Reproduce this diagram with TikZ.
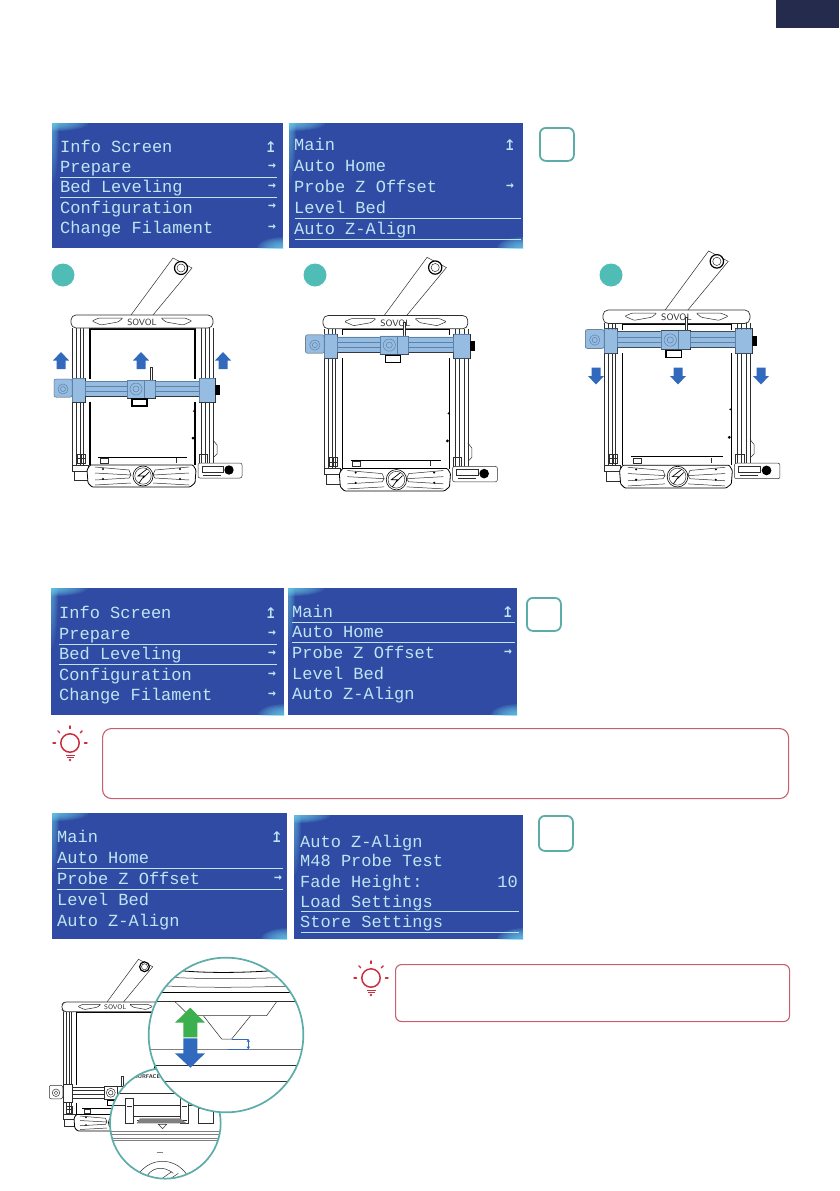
\documentclass[tikz,border=0pt]{standalone}
\usepackage{fontspec}
\usetikzlibrary{arrows.meta,calc}
\newfontfamily\lcdfont{Liberation Mono}
\newfontfamily\lcdsym{DejaVu Sans Mono}
\definecolor{lcdblue}{HTML}{2F4BA3}
\definecolor{lcdglow}{HTML}{6FD3EE}
\definecolor{lcdtext}{HTML}{BDE6F3}
\definecolor{tabnavy}{HTML}{252B4D}
\definecolor{stepteal}{HTML}{4FBDB6}
\definecolor{boxteal}{HTML}{5CADA9}
\definecolor{tipred}{HTML}{C9303F}
\definecolor{tipframe}{HTML}{C75F6C}
\definecolor{arrowblue}{HTML}{3169BD}
\definecolor{arrowgreen}{HTML}{3CB04F}
\definecolor{gantryblue}{HTML}{6FA3D8}
\definecolor{wire}{HTML}{2E2E2E}
\tikzset{
  screen/.style={anchor=north west,inner sep=0pt,fill=lcdblue,path picture={
    \foreach \s in {.2,.3,...,1.05}{
      \fill[lcdglow,fill opacity=.13] (path picture bounding box.north west) ellipse [x radius=36pt*\s,y radius=8pt*\s];
      \fill[lcdglow,fill opacity=.08] (path picture bounding box.north west) ellipse [x radius=7pt*\s,y radius=60pt*\s];
      \fill[lcdglow,fill opacity=.14] (path picture bounding box.south east) ellipse [x radius=26pt*\s,y radius=11pt*\s];}}},
  lcd/.style={anchor=west,inner sep=0pt,text height=11pt,text depth=0pt,text=lcdtext,font=\lcdfont\fontsize{17}{17}\selectfont},
  lcdmark/.style={inner sep=0pt,text=lcdtext,font=\lcdsym\bfseries\fontsize{13}{13}\selectfont},
  lcdback/.style={inner sep=0pt,text=lcdtext,font=\lcdsym\fontsize{20}{20}\selectfont},
  lcdline/.style={draw=lcdtext,line width=.8pt},
  stepdot/.style={circle,fill=stepteal,inner sep=0pt,minimum size=23pt},
  stepbox/.style={anchor=north west,draw=boxteal,line width=1.8pt,rounded corners=6pt,inner sep=0pt},
  tipbox/.style={anchor=north west,draw=tipframe,line width=1.1pt,inner sep=0pt},
  lens/.style={draw=boxteal,line width=1.7pt},
  thinline/.style={draw=wire,line width=.5pt},
  gantrytint/.style={fill=gantryblue,fill opacity=.72},
  pics/blockarrow/.style={code={
    \fill (-4.5,8.5) -- (-4.5,0) -- (-8,0) -- (0,-8.5) -- (8,0) -- (4.5,0) -- (4.5,8.5) -- cycle;}},
  pics/bulb/.style={code={
    \draw[tipred,line width=1.5pt] (0,0) circle (9.2);
    \draw[tipred,line width=1.3pt] (-4.5,12.5) -- (4.5,12.5) (-3.5,14.5) -- (3.5,14.5);
    \fill[tipred] (0,17) circle (1.3);
    \foreach \a in {0,-45,-90,-135,180}
      \draw[tipred,line width=1.4pt,line cap=round] (\a:14.5) -- (\a:17);}},
  pics/printer/.style={code={
    % spool arm
    \draw[thinline] (60,0) -- (102,-57) -- (121,-47) -- (82,0);
    \draw[draw=black,line width=1.2pt,fill=white] (110,-47) circle (6.5);
    \draw[thinline] (110,-47) circle (4);
    % uprights and inner frame
    \foreach \u in {1.5,5,9,12,130,134,138,142}
      \draw[thinline] (\u,13) -- (\u,150);
    \draw[draw=black,line width=1.2pt] (19,13) -- (19,150) (124,13) -- (124,150) (19,14) -- (124,14);
    \draw[draw=wire,line width=.7pt,fill=white,rounded corners=2pt] (0,3) -- (3,0) -- (139,0) -- (142,3) -- (142,10) -- (139,13) -- (3,13) -- (0,10) -- cycle;
    \draw[thinline,rounded corners=1pt] (21,6) -- (28,3) -- (52,3) -- (47,7) -- (30,10) -- cycle (121,6) -- (114,3) -- (90,3) -- (95,7) -- (112,10) -- cycle;
    \node[inner sep=0pt,text=wire,transform shape,font=\sffamily\fontsize{9}{9}\selectfont] (-brand) at (71,7.5) {SOVOL};
    % bed, feet and control box
    \draw[draw=black,line width=1pt] (27,142) -- (116,142);
    \draw[thinline] (29,143) rectangle (37,148) (105,143) -- (105,148);
    \draw[thinline] (6,139) rectangle (14,148) (10,139) -- (10,148) (6,143.5) -- (14,143.5);
    \draw[thinline,fill=white] (1,150) rectangle (17,156) (3,156) rectangle (17,165);
    \draw[thinline] (128,139) rectangle (136,148);
    \draw[thinline] (142,125) -- (146,130) -- (146,139) -- (143,142);
    \fill[black] (122,123) circle (1.5) (123,96) circle (1);
    \draw[thinline,fill=white,rounded corners=2pt] (127,148) rectangle (171,163);
    \draw[thinline] (131,151) rectangle (152,157);
    \draw[draw=wire,line width=1pt] (132,160) -- (150,160);
    \fill[black] (158,155) circle (4.7);
    % base with logo
    \draw[draw=black,line width=.8pt,fill=white,rounded corners=1pt] (19,150) -- (122,150) -- (125,155) -- (124,168) -- (119,172) -- (21,172) -- (17,168) -- (16,155) -- cycle;
    \draw[thinline] (24,152) -- (58,155) -- (60,160) -- (24,158) (24,165) -- (58,163) -- (60,160) (24,170) -- (60,168) (118,152) -- (84,155) -- (82,160) -- (118,158) (118,165) -- (84,163) -- (82,160) (118,170) -- (82,168);
    \fill[black] (32,154) circle (1.1) (32,164) circle (1.1) (109,154) circle (1.1) (109,164) circle (1.1);
    \draw[draw=black,line width=.6pt,fill=white] (72,161) circle (10);
    \draw[thinline] (72,161) circle (8.2);
    \draw[draw=black,line width=.7pt] (76,154) -- (67,161) -- (73,161) -- (68,168) (78,157) -- (72,163);
    % gantry
    \begin{scope}[shift={(0,#1)}]
      \fill[white] (-17,1) rectangle (149,24);
      \draw[thinline,rounded corners=2pt] (-17,1) rectangle (1,19);
      \draw[thinline] (-8,11) circle (5) (-8,11) circle (2.5);
      \draw[thinline] (1,0) rectangle (14,24) (128,0) rectangle (144,24);
      \fill[black] (144,7) rectangle (149,17);
      \draw[thinline] (14,3) -- (128,3) (14,8) -- (128,8) (14,13) -- (128,13) (14,18) -- (128,18);
      \draw[thinline,fill=white] (79,-11) rectangle (81,2);
      \draw[thinline,fill=white] (56,2) rectangle (84,20) (73,2) -- (73,20);
      \draw[thinline] (65,11) circle (6) (65,11) circle (3);
      \draw[draw=black,line width=1.3pt,fill=white] (61,21) rectangle (76,28);
      \fill[gantrytint] (-17,1) rectangle (1,19) (1,0) rectangle (14,24) (14,3) rectangle (128,18) (128,0) rectangle (144,24) (56,2) rectangle (84,20);
    \end{scope}}}
}
\begin{document}
\begin{tikzpicture}[x=1pt,y=-1pt]
  \useasboundingbox (0,0) rectangle (839,1191);
  \fill[tabnavy] (776,0) rectangle (839,28);

  % first row of screens
  \node[screen,minimum width=231pt,minimum height=125pt] (s1) at (52,123) {};
  \node[screen,minimum width=234pt,minimum height=125pt] (s2) at (289,123) {};
  \foreach \t/\y in {Info Screen/147,Prepare/167,Bed Leveling/187,Configuration/208,Change Filament/228}
    \node[lcd] (s1-\y) at (60,\y) {\t};
  \foreach \t/\y in {Main/145,Auto Home/166,Probe Z Offset/187,Level Bed/208,Auto Z-Align/229}
    \node[lcd] (s2-\y) at (294,\y) {\t};
  \foreach \y in {167,187,207,228}
    \node[lcdmark] (s1m\y) at (272,\y) {→};
  \node[lcdback] (s1up) at (271,147) {↥};
  \node[lcdback] (s2up) at (510,145) {↥};
  \node[lcdmark] (s2m) at (510,187) {→};
  \draw[lcdline] (60,177) -- (277,177) (60,197) -- (277,197) (295,218) -- (521,218) (295,239) -- (521,239);
  \node[stepbox,minimum width=34pt,minimum height=33pt] (b1) at (539,127) {};

  % gantry moves
  \foreach \x/\k in {63/1,315/2,611/3}
    \node[stepdot] (d\k) at (\x,275) {};
  \pic (p1) at (71,315) {printer=63};
  \pic[scale=1.02] (p2) at (323,315.5) {printer=18};
  \pic[scale=1.035] (p3) at (603,310) {printer=18};
  \foreach \x in {61,141,223}
    \pic[arrowblue] at (\x,360.5) {blockarrow};
  \foreach \x in {596,678,761}
    \pic[arrowblue,yscale=-1] at (\x,376) {blockarrow};

  % second row of screens
  \node[screen,minimum width=233pt,minimum height=127pt] (s3) at (51,588) {};
  \node[screen,minimum width=229pt,minimum height=127pt] (s4) at (288,588) {};
  \foreach \t/\y in {Info Screen/613,Prepare/634,Bed Leveling/654,Configuration/675,Change Filament/695}
    \node[lcd] (s3-\y) at (59,\y) {\t};
  \foreach \t/\y in {Main/612,Auto Home/632,Probe Z Offset/653,Level Bed/674,Auto Z-Align/694}
    \node[lcd] (s4-\y) at (292,\y) {\t};
  \foreach \y in {634,654,675,695}
    \node[lcdmark] (s3m\y) at (272,\y) {→};
  \node[lcdback] (s3up) at (271,613) {↥};
  \node[lcdback] (s4up) at (508,612) {↥};
  \node[lcdmark] (s4m) at (508,653) {→};
  \draw[lcdline] (59,644) -- (277,644) (59,664) -- (277,664) (292,622) -- (515,622) (292,642) -- (515,642);
  \node[stepbox,minimum width=34pt,minimum height=33pt] (b2) at (526,597) {};

  \pic at (70,743) {bulb};
  \node[tipbox,rounded corners=9pt,minimum width=686pt,minimum height=70pt] (t1) at (102,728) {};

  % third row of screens
  \node[screen,minimum width=235pt,minimum height=126pt] (s5) at (52,813) {};
  \node[screen,minimum width=229pt,minimum height=124pt] (s6) at (294,815) {};
  \foreach \t/\y in {Main/837,Auto Home/858,Probe Z Offset/879,Level Bed/900,Auto Z-Align/921}
    \node[lcd] (s5-\y) at (57,\y) {\t};
  \foreach \t/\y in {Auto Z-Align/842,M48 Probe Test/861,Fade Height:/882,Load Settings/902,Store Settings/922}
    \node[lcd] (s6-\y) at (300,\y) {\t};
  \node[lcdback] (s5up) at (277,837) {↥};
  \node[lcdmark] (s5m) at (278,879) {→};
  \node[lcd,anchor=east] (s6v) at (518,882) {10};
  \draw[lcdline] (57,868) -- (283,868) (57,889) -- (283,889) (301,911) -- (519,911) (301,932) -- (519,932);
  \node[stepbox,minimum width=34pt,minimum height=35pt] (b3) at (538,815) {};

  % nozzle gap with magnified views
  \pic[scale=.75,gantrytint/.style={fill opacity=0}] (p4) at (62,1002) {printer=110};
  \begin{scope}[shift={(30,950)},scale=1/3]
    \fill[white] (406,520) circle (166);
    \begin{scope}
      \clip (406,520) circle (166);
      \node[inner sep=0pt,text=wire,font=\sffamily\bfseries\fontsize{5.5}{5.5}\selectfont] (surface) at (352,380) {SURFACE};
      \draw[thinline] (250,430) -- (560,430) (250,465) -- (560,465) (505,475) rectangle (550,520);
      \draw[thinline,fill=white] (285,445) rectangle (310,520) (450,445) rectangle (475,520);
      \draw[thinline] (290,470) -- (305,470) (455,470) -- (470,470);
      \draw[draw=wire,line width=.9pt] (310,500) -- (450,500) (320,512) -- (470,512);
      \fill[gray] (330,505) -- (450,505) -- (470,520) -- (320,520) -- cycle;
      \draw[thinline] (385,523) -- (410,523) -- (398,536) -- cycle;
      \draw[draw=gray,line width=.4pt] (240,545) -- (570,545) (240,552) -- (570,552) (240,565) -- (570,565) (240,570) -- (570,570);
      \draw[draw=gray,line width=.4pt] (380,606) -- (398,606);
      \draw[thinline] (315,690) .. controls (350,615) and (445,615) .. (480,690);
      \draw[thinline] (345,690) .. controls (360,650) and (400,645) .. (430,670) (390,690) -- (425,665) (415,690) -- (445,670);
    \end{scope}
    \draw[lens] (406,520) circle (166);
  \end{scope}
  \begin{scope}[shift={(30,950)},scale=1/3]
    \fill[white] (588,255) circle (232);
    \begin{scope}
      \clip (588,255) circle (232);
      \draw[draw=black,line width=.8pt] (450,62) .. controls (540,70) and (640,68) .. (730,62);
      \draw[thinline] (420,82) .. controls (540,88) and (650,86) .. (780,82) (410,108) .. controls (540,114) and (650,112) .. (790,108);
      \draw[draw=black,line width=.9pt] (380,128) -- (800,128);
      \draw[draw=wire,line width=.6pt] (350,155) -- (830,155);
      \draw[thinline] (435,155) -- (478,197) -- (710,197) -- (740,155) (520,197) -- (575,267) -- (605,267) -- (662,197);
      \draw[draw=gray,line width=.5pt] (350,298) -- (830,298);
      \draw[draw=wire,line width=.6pt] (350,346) -- (830,346) (350,395) -- (830,395);
      \draw[draw=arrowblue,line width=.6pt] (605,267) -- (655,267) (595,298) -- (655,298);
      \coordinate (gaptop) at (655,267);
      \coordinate (gapbot) at (655,298);
      \draw[draw=arrowblue,line width=.6pt,{Stealth[length=3pt,width=3.5pt]}-{Stealth[length=3pt,width=3.5pt]}] (gaptop) -- (gapbot);
      \fill[arrowgreen] (460,262) -- (460,218) -- (435,218) -- (481,173) -- (525,218) -- (502,218) -- (502,262) -- cycle;
      \fill[arrowblue] (460,265) -- (460,310) -- (435,310) -- (481,353) -- (525,310) -- (502,310) -- (502,265) -- cycle;
    \end{scope}
    \draw[lens] (588,255) circle (232);
  \end{scope}

  \pic at (371,978) {bulb};
  \node[tipbox,rounded corners=6pt,minimum width=394pt,minimum height=57pt] (t2) at (395,964) {};
\end{tikzpicture}
\end{document}
